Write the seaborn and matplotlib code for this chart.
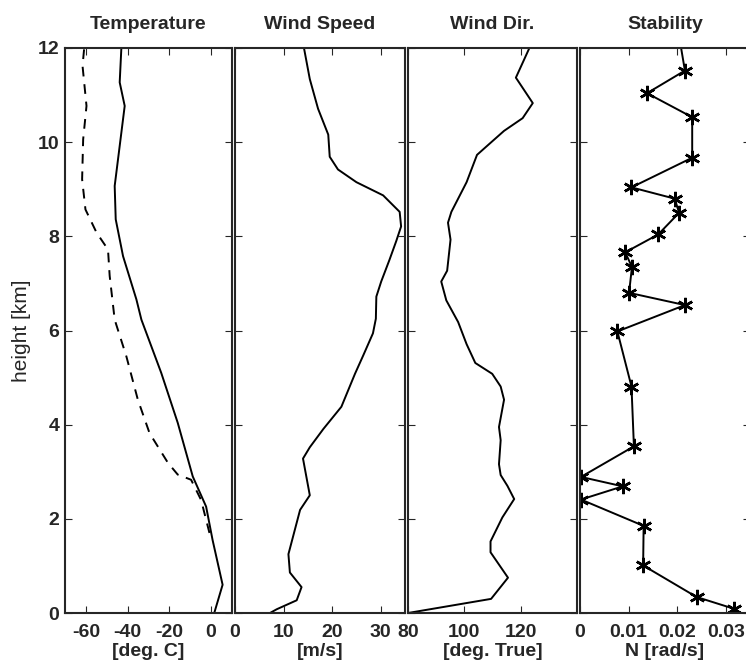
import matplotlib
matplotlib.use("Agg")
import matplotlib.pyplot as plt
import seaborn as sns

temp_height = [12.0, 11.27, 10.77, 9.07, 8.36, 7.58, 6.66, 6.23, 5.1, 4.04, 2.9, 2.26, 1.55, 0.6, 0.0]
temp_air = [-43.0, -43.8, -41.4, -46.2, -45.7, -42.2, -35.8, -33.4, -23.9, -16.0, -8.8, -2.4, 0.7, 5.5, 1.5]

dew_height = [12.0, 11.62, 10.77, 10.06, 9.21, 8.57, 8.08, 7.72, 7.16, 6.23, 5.45, 4.53, 3.82,
              3.19, 2.94, 2.83, 2.4, 1.7]
temp_dew = [-60.8, -61.6, -59.7, -61.3, -61.8, -60.2, -54.9, -49.4, -48.6, -46.2, -40.6, -35.1, -29.5,
            -20.7, -16.0, -9.6, -4.8, -0.8]

wspd_height = [12.0, 11.34, 10.71, 10.16, 9.69, 9.42, 9.15, 8.87, 8.52, 8.21, 7.9, 7.5, 7.04, 6.72,
               6.25, 5.94, 5.47, 5.08, 4.38, 3.91, 3.52, 3.28, 2.5, 2.19, 1.25, 0.86, 0.55, 0.27, 0.08, 0.0]
wind_speed = [14.2, 15.4, 17.1, 19.2, 19.5, 21.2, 25.0, 30.5, 33.9, 34.2, 33.2, 31.8, 30.1, 29.1,
              29.0, 28.4, 26.4, 24.7, 21.9, 18.2, 15.4, 14.0, 15.4, 13.4, 11.0, 11.3, 13.7, 12.7, 8.6, 7.2]

wdir_height = [12.0, 11.37, 10.83, 10.51, 10.24, 9.89, 9.73, 9.15, 8.52, 8.29, 7.93, 7.27, 7.04, 6.64,
               6.18, 5.71, 5.31, 5.08, 4.81, 4.53, 3.95, 3.67, 3.16, 2.93, 2.70, 2.42, 2.03, 1.52,
               1.29, 0.75, 0.3, 0.0]
wind_dir = [123.1, 118.3, 124.3, 120.7, 114.1, 107.5, 104.5, 100.8, 95.4, 94.2, 95.1, 93.9, 91.8, 93.6,
            97.8, 100.8, 103.9, 109.9, 112.9, 114.1, 112.3, 112.9, 112.3, 112.9, 115.3, 117.7, 113.5, 109.3,
            109.3, 115.5, 109.5, 80.0]

stab_height = [12.5, 11.52, 11.04, 10.53, 9.67, 9.04, 8.80, 8.50, 8.04, 7.66, 7.35, 6.80, 6.54, 5.98,
               4.81, 3.54, 2.89, 2.69, 2.41, 1.85, 1.01, 0.34, 0.09]
stab_n = [0.0200, 0.0216, 0.0138, 0.0231, 0.0231, 0.0106, 0.0195, 0.0204, 0.0161, 0.0093, 0.0107, 0.0101,
          0.0216, 0.0077, 0.0106, 0.0111, 0.0002, 0.0088, 0.0002, 0.0131, 0.0130, 0.0240, 0.0317]

titles = ["Temperature", "Wind Speed", "Wind Dir.", "Stability"]
xlabels = ["[deg. C]", "[m/s]", "[deg. True]", "N [rad/s]"]
xlims = [(-70, 10), (0, 35), (80, 140), (0, 0.035)]
xticks = [[-60, -40, -20, 0], [0, 10, 20, 30], [80, 100, 120], [0, 0.01, 0.02, 0.03]]
xticklabels = [["-60", "-40", "-20", "0"], ["0", "10", "20", "30"], ["80", "100", "120"],
               ["0", "0.01", "0.02", "0.03"]]

sns.set_style("ticks")
plt.rcParams["font.family"] = ["Liberation Sans", "DejaVu Sans"]
plt.rcParams.update({
    "xtick.direction": "in", "ytick.direction": "in",
    "xtick.top": True, "ytick.right": True,
    "xtick.major.size": 5, "ytick.major.size": 5,
    "axes.linewidth": 1.5,
})

W, H = 746, 665
fig = plt.figure(figsize=(W / 100, H / 100), dpi=100)

# panel edges in pixels (left, right), common top/bottom
edges = [(65, 232), (235, 405), (408, 577), (580, 750)]
top, bottom = 48, 613
axes = [fig.add_axes([l / W, (H - bottom) / H, (r - l) / W, (bottom - top) / H]) for l, r in edges]

fs = 14
lw = 1.4
sns.lineplot(x=temp_air, y=temp_height, orient="y", estimator=None, color="black", lw=lw, ax=axes[0])
sns.lineplot(x=temp_dew, y=dew_height, orient="y", estimator=None, color="black", lw=lw,
             linestyle=(0, (5, 4)), ax=axes[0])
sns.lineplot(x=wind_speed, y=wspd_height, orient="y", estimator=None, color="black", lw=lw, ax=axes[1])
sns.lineplot(x=wind_dir, y=wdir_height, orient="y", estimator=None, color="black", lw=lw, ax=axes[2])
sns.lineplot(x=stab_n, y=stab_height, orient="y", estimator=None, color="black", lw=lw, ax=axes[3],
             marker=(6, 2, 0), markersize=11, markeredgecolor="black", markeredgewidth=1.8)

for i, ax in enumerate(axes):
    ax.set_xlim(*xlims[i])
    ax.set_ylim(0, 12)
    ax.set_xticks(xticks[i])
    ax.set_xticklabels(xticklabels[i])
    ax.set_yticks(range(0, 13, 2))
    ax.set_title(titles[i], fontsize=fs, fontweight="bold", pad=14)
    ax.set_xlabel(xlabels[i], fontsize=fs, fontweight="bold", labelpad=1)
    ax.tick_params(axis="x", labelsize=fs, pad=8)
    ax.tick_params(axis="y", labelsize=fs, pad=4)
    for lab in ax.get_xticklabels() + ax.get_yticklabels():
        lab.set_fontweight("bold")
    if i == 0:
        ax.set_ylabel("height [km]", fontsize=15, labelpad=5)
    else:
        ax.set_ylabel("")
        ax.tick_params(axis="y", labelleft=False)

fig.savefig("out.png", dpi=100)
